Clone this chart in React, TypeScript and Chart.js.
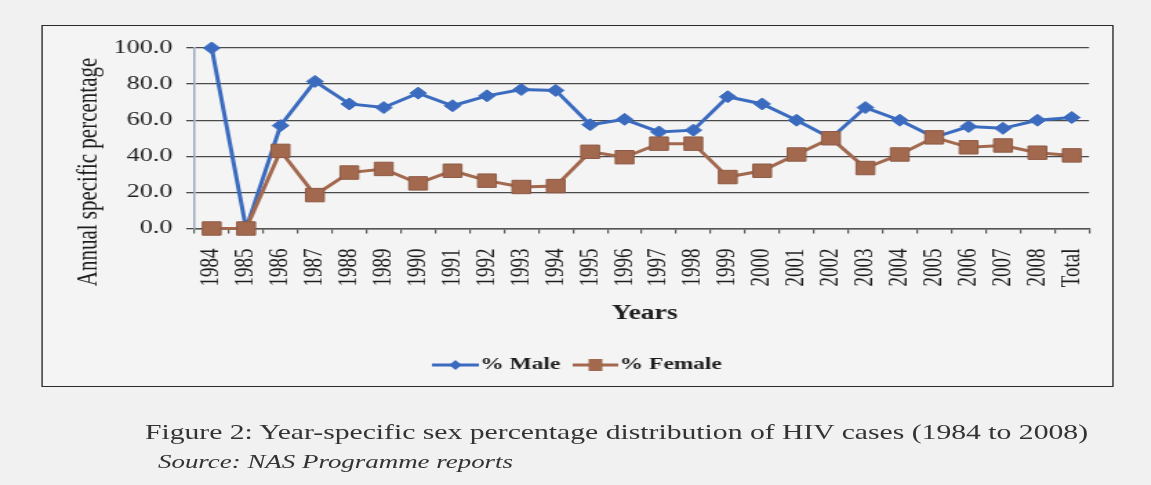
import React, { useEffect, useRef } from 'react';
import { Chart, registerables } from 'chart.js';

Chart.register(...registerables);

const categories = ['1984', '1985', '1986', '1987', '1988', '1989', '1990', '1991', '1992', '1993', '1994', '1995', '1996', '1997', '1998', '1999', '2000', '2001', '2002', '2003', '2004', '2005', '2006', '2007', '2008', 'Total'];
const maleValues = [100, 0, 57, 81.5, 69, 67, 75, 68, 73.5, 77, 76.5, 57.5, 60.5, 53.5, 54.5, 73, 69, 60, 50, 67, 60, 50.5, 56.5, 55.5, 60, 61.5];
const femaleValues = [0, 0, 43, 18.5, 31, 33, 25, 32, 26.5, 23, 23.5, 42.5, 39.5, 47, 47, 28.5, 32, 41, 50, 33.5, 41, 50.5, 45, 46, 42, 40.5];
const yTickValues = [0, 20, 40, 60, 80, 100];

const seriesNames = ['% Male', '% Female'];
const maleColor = '#3b6bbf';
const femaleColor = '#a2694f';

const S = 1.38;
const W = Math.round(1151 / S);
const H = 485;
const SERIF = '"Liberation Serif", "Times New Roman", serif';

const PLOT_LEFT = 194.5 / S;
const PLOT_RIGHT = 1089 / S;
const PLOT_TOP = 48;
const PLOT_BOTTOM = 228.5;

const textPlugin = {
  id: 'extraTexts',
  afterDraw(chart: any) {
    const ctx = chart.ctx;
    const a = chart.chartArea;
    ctx.save();
    ctx.fillStyle = '#1e1e1e';
    // Y title
    ctx.save();
    ctx.translate(64, 172);
    ctx.rotate(-Math.PI / 2);
    ctx.font = `21px ${SERIF}`;
    ctx.textAlign = 'center';
    ctx.textBaseline = 'middle';
    ctx.fillText('Annual specific percentage', 0, 0);
    ctx.restore();
    // X title
    ctx.font = `bold 20px ${SERIF}`;
    ctx.textAlign = 'center';
    ctx.textBaseline = 'middle';
    ctx.fillText('Years', (a.left + a.right) / 2 + 2, 314);
    // Legend
    const ly = 365;
    const items = [
      { x1: 313, x2: 347, color: maleColor, shape: 'diamond', label: seriesNames[0] },
      { x1: 415, x2: 448, color: femaleColor, shape: 'square', label: seriesNames[1] },
    ];
    items.forEach((it) => {
      ctx.strokeStyle = it.color;
      ctx.lineWidth = 3;
      ctx.beginPath();
      ctx.moveTo(it.x1, ly);
      ctx.lineTo(it.x2, ly);
      ctx.stroke();
      const cx = (it.x1 + it.x2) / 2;
      ctx.fillStyle = it.color;
      ctx.beginPath();
      if (it.shape === 'diamond') {
        ctx.moveTo(cx, ly - 5);
        ctx.lineTo(cx + 4.5, ly);
        ctx.lineTo(cx, ly + 5);
        ctx.lineTo(cx - 4.5, ly);
        ctx.closePath();
      } else {
        ctx.rect(cx - 5, ly - 6, 10, 12);
      }
      ctx.fill();
      ctx.fillStyle = '#1e1e1e';
      ctx.font = `bold 17px ${SERIF}`;
      ctx.textAlign = 'left';
      ctx.textBaseline = 'middle';
      ctx.fillText(it.label, it.x2 + 1, ly);
    });
    ctx.restore();
  },
};

export default function App() {
  const canvasRef = useRef<HTMLCanvasElement | null>(null);

  useEffect(() => {
    const canvas = canvasRef.current;
    if (!canvas) return;
    const chart = new Chart(canvas, {
      type: 'line',
      data: {
        labels: categories,
        datasets: [
          {
            label: seriesNames[0],
            data: maleValues,
            borderColor: maleColor,
            backgroundColor: maleColor,
            borderWidth: 3,
            pointStyle: 'rectRot',
            pointRadius: 6,
            pointBackgroundColor: maleColor,
            pointBorderColor: maleColor,
            pointBorderWidth: 1,
            tension: 0,
            clip: false,
            order: 1,
          },
          {
            label: seriesNames[1],
            data: femaleValues,
            borderColor: femaleColor,
            backgroundColor: femaleColor,
            borderWidth: 3,
            pointStyle: 'rect',
            pointRadius: 9.5,
            pointBackgroundColor: femaleColor,
            pointBorderColor: '#8e5a44',
            pointBorderWidth: 1,
            tension: 0,
            clip: false,
            order: 0,
          },
        ],
      },
      options: {
        responsive: false,
        animation: false,
        devicePixelRatio: 1,
        layout: {
          padding: { left: 0, right: W - PLOT_RIGHT, top: PLOT_TOP, bottom: 0 },
        },
        plugins: {
          legend: { display: false },
          tooltip: { enabled: false },
          title: { display: false },
        },
        scales: {
          x: {
            type: 'category',
            offset: true,
            grid: {
              display: true,
              drawOnChartArea: false,
              drawTicks: true,
              tickLength: 5,
              offset: true,
              color: '#555',
              lineWidth: 1.2,
            },
            border: { display: true, color: '#555', width: 1.5 },
            ticks: {
              autoSkip: false,
              minRotation: 90,
              maxRotation: 90,
              padding: 15,
              color: '#1e1e1e',
              font: { family: SERIF, size: 19 },
            },
            afterFit: (scale: any) => {
              scale.height = H - PLOT_BOTTOM;
            },
          },
          y: {
            min: 0,
            max: 100,
            afterBuildTicks: (scale: any) => {
              scale.ticks = yTickValues.map((v) => ({ value: v }));
            },
            grid: {
              color: '#4a4a4a',
              lineWidth: 1.3,
              drawTicks: true,
              tickLength: 6,
            },
            border: { display: true, color: '#9aaabb', width: 1.5 },
            ticks: {
              padding: 10,
              color: '#1e1e1e',
              font: { family: SERIF, size: 19 },
              callback: (v: any) => Number(v).toFixed(1),
            },
            afterFit: (scale: any) => {
              scale.width = PLOT_LEFT;
            },
          },
        },
      },
      plugins: [textPlugin],
    } as any);
    return () => chart.destroy();
  }, []);

  return (
    <div
      style={{
        position: 'fixed',
        left: 0,
        top: 0,
        width: 1151,
        height: 485,
        overflow: 'hidden',
        background: '#f1f1f1',
      }}
    >
      <div
        style={{
          position: 'absolute',
          left: 0,
          top: 0,
          width: W,
          height: H,
          transform: `scaleX(${S})`,
          transformOrigin: '0 0',
        }}
      >
        <div
          style={{
            position: 'absolute',
            left: 30.2,
            top: 25,
            width: 777,
            height: 362,
            border: '1.5px solid #2a2a2a',
            boxSizing: 'border-box',
            background: '#f4f4f4',
          }}
        />
        <canvas
          ref={canvasRef}
          width={W}
          height={H}
          style={{ position: 'absolute', left: 0, top: 0, width: W, height: H }}
        />
        <div
          style={{
            position: 'absolute',
            left: 105,
            top: 420,
            fontFamily: SERIF,
            fontSize: 21.5,
            lineHeight: '24px',
            color: '#333',
            whiteSpace: 'nowrap',
          }}
        >
          Figure 2: Year-specific sex percentage distribution of HIV cases (1984 to 2008)
        </div>
        <div
          style={{
            position: 'absolute',
            left: 114.5,
            top: 451,
            fontFamily: SERIF,
            fontSize: 19.5,
            fontStyle: 'italic',
            lineHeight: '22px',
            color: '#333',
            whiteSpace: 'nowrap',
          }}
        >
          Source: NAS Programme reports
        </div>
      </div>
    </div>
  );
}
